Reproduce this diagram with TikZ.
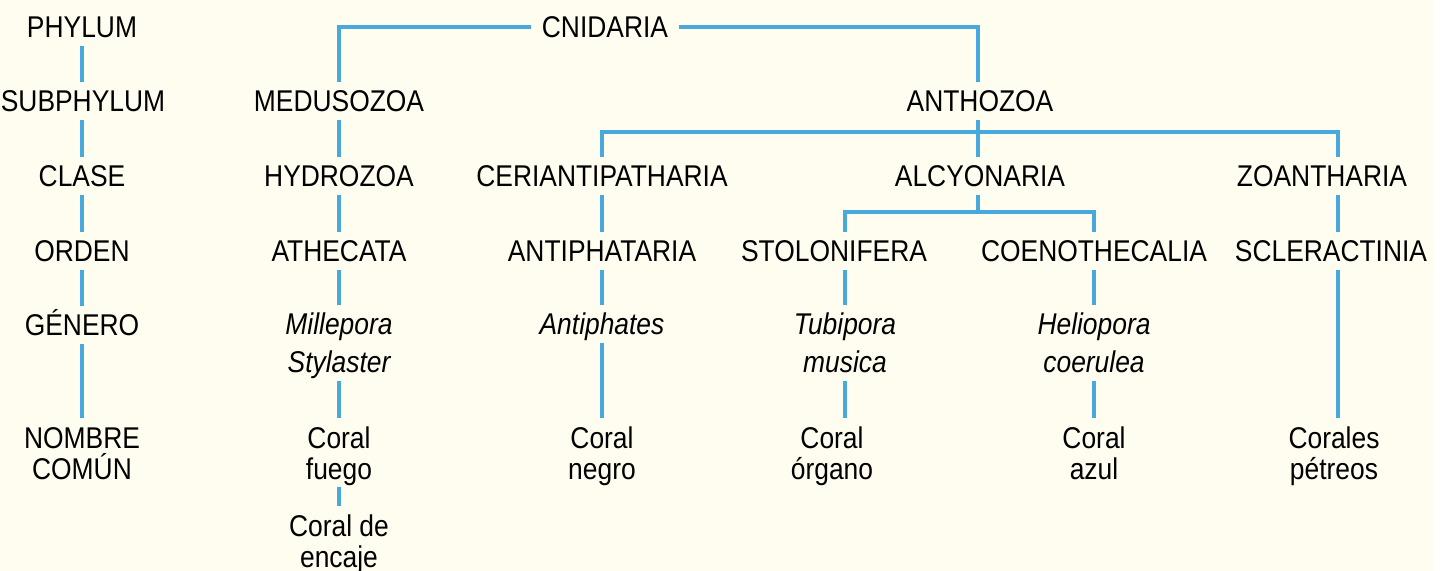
\documentclass[tikz,border=0pt]{standalone}
\usepackage{fontspec}
\setmainfont{Liberation Sans}[FakeStretch=0.88]
\definecolor{lblue}{RGB}{72,170,220}
\definecolor{cream}{RGB}{255,253,240}
\newcommand{\fsr}{\fontsize{15pt}{15.5pt}\selectfont}
\newcommand{\fsi}{\fontsize{15pt}{19pt}\selectfont\itshape}
\tikzset{
  lab/.style={font=\fsr, inner xsep=3pt, inner ysep=3.75pt, text height=11pt, text depth=0pt, align=center, anchor=base},
  labi/.style={lab, font=\fsi},
  two/.style={text height=26.5pt},
  twoi/.style={text height=30pt},
  conn/.style={draw=lblue, line width=1.6pt},
}
\begin{document}
\begin{tikzpicture}[x=0.5pt,y=-0.5pt]
\useasboundingbox (0,0) rectangle (1445,571);
\fill[cream] (0,0) rectangle (1433,571);
\fill[white] (1433,0) rectangle (1445,571);
% left column
\node[lab] (phy) at (82,38) {PHYLUM};
\node[lab] (sub) at (83,112) {SUBPHYLUM};
\node[lab] (cla) at (82,187) {CLASE};
\node[lab] (ord) at (82,262) {ORDEN};
\node[lab] (gen) at (82,336) {GÉNERO};
\node[lab,two] (nom) at (82,479) {NOMBRE\\COMÚN};
% medusozoa
\node[lab,inner xsep=5.5pt] (cn) at (605,38) {CNIDARIA};
\node[lab] (med) at (339,112) {MEDUSOZOA};
\node[lab] (hyd) at (339,187) {HYDROZOA};
\node[lab] (ath) at (339,262) {ATHECATA};
\node[labi,twoi] (mil) at (339,373) {Millepora\\Stylaster};
\node[lab,two] (cf) at (339,479) {Coral\\fuego};
\node[lab,two] (ce) at (339,567) {Coral de\\encaje};
% anthozoa
\node[lab] (anth) at (980,112) {ANTHOZOA};
\node[lab] (cer) at (602,187) {CERIANTIPATHARIA};
\node[lab] (ant) at (602,262) {ANTIPHATARIA};
\node[labi] (antp) at (602,335) {Antiphates};
\node[lab,two] (cneg) at (602,479) {Coral\\negro};
\node[lab] (alc) at (980,187) {ALCYONARIA};
\node[lab] (sto) at (834,262) {STOLONIFERA};
\node[labi,twoi] (tub) at (845,373) {Tubipora\\musica};
\node[lab,two] (corg) at (832,479) {Coral\\órgano};
\node[lab] (coe) at (1094,262) {COENOTHECALIA};
\node[labi,twoi] (hel) at (1094,373) {Heliopora\\coerulea};
\node[lab,two] (caz) at (1094,479) {Coral\\azul};
\node[lab] (zoa) at (1322,187) {ZOANTHARIA};
\node[lab] (scl) at (1331,262) {SCLERACTINIA};
\node[lab,two] (cp) at (1334,479) {Corales\\pétreos};
\coordinate (ab) at (978,132);
\coordinate (cb) at (978,212);
% connectors
\draw[conn] (phy.south) -- (sub.north -| phy.south);
\draw[conn] (sub.south -| phy.south) -- (cla.north);
\draw[conn] (cla.south) -- (ord.north);
\draw[conn] (ord.south) -- (gen.north);
\draw[conn] (gen.south) -- (nom.north);
\draw[conn] (cn.west) -| (med.north);
\draw[conn] (cn.east) -| ([xshift=-1pt]anth.north);
\draw[conn] (med.south) -- (hyd.north);
\draw[conn] (hyd.south) -- (ath.north);
\draw[conn] (ath.south) -- (mil.north);
\draw[conn] (mil.south) -- (cf.north);
\draw[conn] (cf.south) -- (ce.north);
\draw[conn] ([xshift=-1pt]anth.south) -- ([xshift=-1pt]alc.north);
\draw[conn] (cer.north) |- (ab) -| ([xshift=8pt]zoa.north);
\draw[conn] (cer.south) -- (ant.north);
\draw[conn] (ant.south) -- (antp.north);
\draw[conn] (antp.south) -- (cneg.north);
\draw[conn] ([xshift=-1pt]alc.south) -- (cb);
\draw[conn] ([xshift=5.5pt]sto.north) |- (cb) -| (coe.north);
\draw[conn] ([xshift=5.5pt]sto.south) -- (tub.north);
\draw[conn] (tub.south) -- ([xshift=6.5pt]corg.north);
\draw[conn] (coe.south) -- (hel.north);
\draw[conn] (hel.south) -- (caz.north);
\draw[conn] ([xshift=8pt]zoa.south) -- ([xshift=3.5pt]scl.north);
\draw[conn] ([xshift=3.5pt]scl.south) -- ([xshift=2pt]cp.north);
\end{tikzpicture}
\end{document}
